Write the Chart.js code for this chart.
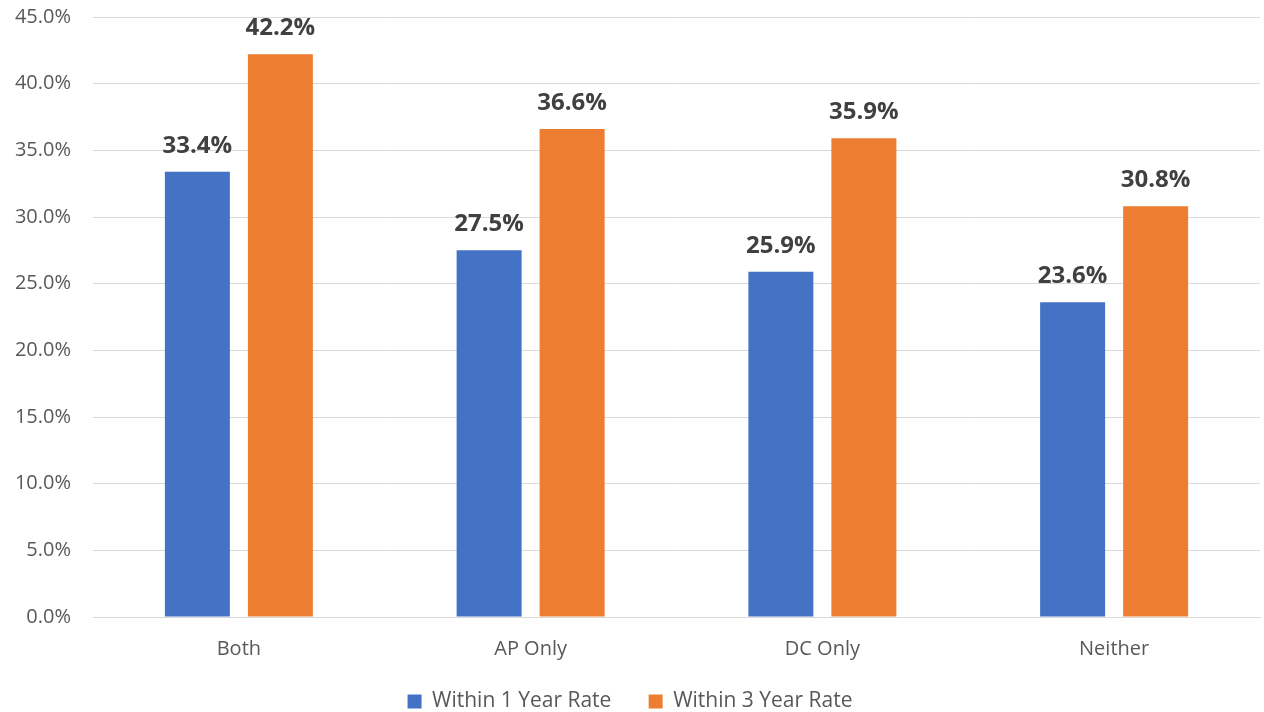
<!DOCTYPE html>
<html>
<head>
<meta charset="utf-8">
<script src="https://cdn.jsdelivr.net/npm/chart.js@4.4.1/dist/chart.umd.min.js"></script>
<style>
  html, body { margin: 0; padding: 0; background: #ffffff; }
  #wrap { width: 1264px; height: 712px; }
</style>
</head>
<body>
<div id="wrap"><canvas id="chart" width="1264" height="712"></canvas></div>
<script>
// Categories and rates (percent)
const categories = ['Both', 'AP Only', 'DC Only', 'Neither'];
const within1Year = [33.4, 27.5, 25.9, 23.6];
const within3Year = [42.2, 36.6, 35.9, 30.8];
const seriesNames = ['Within 1 Year Rate', 'Within 3 Year Rate'];

const FONT = '"Open Sans", "Noto Sans", sans-serif';

// Bold value labels above each bar
const valueLabels = {
  id: 'valueLabels',
  afterDatasetsDraw(chart) {
    const ctx = chart.ctx;
    ctx.save();
    ctx.font = 'bold 24px ' + FONT;
    ctx.fillStyle = '#404040';
    ctx.textAlign = 'center';
    ctx.textBaseline = 'alphabetic';
    chart.data.datasets.forEach((ds, i) => {
      chart.getDatasetMeta(i).data.forEach((bar, j) => {
        ctx.fillText(ds.data[j].toFixed(1) + '%', bar.x, bar.y - 19);
      });
    });
    ctx.restore();
  }
};

new Chart(document.getElementById('chart'), {
  type: 'bar',
  data: {
    labels: categories,
    datasets: [
      { label: seriesNames[0], data: within1Year, backgroundColor: '#4472c4',
        categoryPercentage: 0.569, barPercentage: 0.783 },
      { label: seriesNames[1], data: within3Year, backgroundColor: '#ed7d31',
        categoryPercentage: 0.569, barPercentage: 0.783 }
    ]
  },
  options: {
    responsive: false,
    animation: false,
    devicePixelRatio: 1,
    layout: { padding: { top: 17, right: 4, left: 0, bottom: -10 } },
    scales: {
      y: {
        min: 0, max: 45,
        ticks: {
          stepSize: 5,
          callback: v => v.toFixed(1) + '%',
          font: { family: FONT, size: 20 },
          color: '#595959',
          padding: 22
        },
        grid: { color: '#d9d9d9', lineWidth: 1, drawTicks: false },
        border: { display: false },
        afterFit(axis) {
          axis.width = 93;
          axis.paddingTop = 0;
          axis.paddingBottom = 0;
        }
      },
      x: {
        ticks: { font: { family: FONT, size: 20 }, color: '#595959', padding: 20 },
        grid: { display: false, drawTicks: false },
        border: { color: '#d9d9d9', width: 1 }
      }
    },
    plugins: {
      legend: {
        position: 'bottom',
        labels: {
          boxWidth: 14, boxHeight: 14,
          font: { family: FONT, size: 21 },
          color: '#595959',
          padding: 10,
          // wider gap after the first entry
          generateLabels(chart) {
            const items = Chart.defaults.plugins.legend.labels.generateLabels(chart);
            items.forEach((it, i) => { if (i < items.length - 1) it.text += '     '; });
            return items;
          }
        }
      },
      tooltip: { enabled: false }
    }
  },
  plugins: [valueLabels]
});
</script>
</body>
</html>
